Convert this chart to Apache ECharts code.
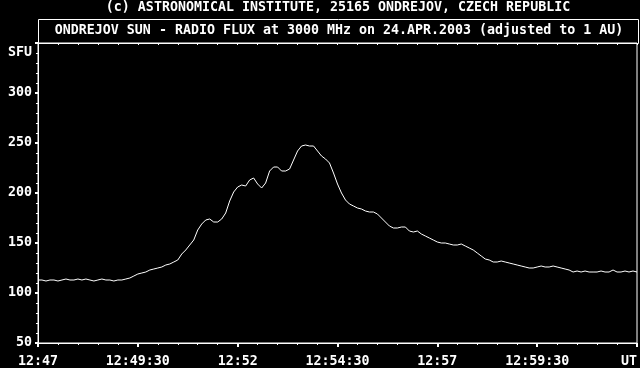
<!DOCTYPE html>
<html>
<head>
<meta charset="utf-8">
<script src="https://cdn.jsdelivr.net/npm/echarts@6/dist/echarts.min.js"></script>
<style>
  html, body { margin: 0; padding: 0; background: #000; }
  #chart { width: 640px; height: 368px; }
</style>
</head>
<body>
<div id="chart"></div>
<script>
// ---- data ----
const headerText = '(c) ASTRONOMICAL INSTITUTE, 25165 ONDREJOV, CZECH REPUBLIC';
const titleText = 'ONDREJOV SUN - RADIO FLUX at 3000 MHz on 24.APR.2003 (adjusted to 1 AU)';
// seconds after 12:47:00 UT for each sample
const sampleStepSeconds = 6;
// flux in SFU, one sample every 6 s from 12:47:00 to 13:02:00
const flux = [
  113,113,112,113,113,112,113,114,113,113,
  114,113,114,113,112,113,114,113,113,112,
  113,113,114,115,117,119,120,121,123,124,
  125,126,128,129,131,133,139,143,148,153,
  163,169,173,174,171,171,174,180,192,201,
  206,208,207,213,215,209,205,210,222,226,
  226,222,222,224,233,242,247,248,247,247,
  242,237,234,230,220,209,200,193,189,187,
  185,184,182,181,181,179,175,171,167,165,
  165,166,166,162,161,162,159,157,155,153,
  151,150,150,149,148,148,149,147,145,143,
  140,137,134,133,131,131,132,131,130,129,
  128,127,126,125,125,126,127,126,126,127,
  126,125,124,123,121,122,121,122,121,121,
  121,122,121,121,123,121,121,122,121,122,
  121
];
const xTickLabels = ['12:47', '12:49:30', '12:52', '12:54:30', '12:57', '12:59:30', 'UT'];
const xMajorStep = 150;   // seconds between labelled ticks
const yTickValues = [50, 100, 150, 200, 250, 300, 340];
const yTickLabels = ['50', '100', '150', '200', '250', '300', 'SFU'];

// ---- chart ----
const FONT = 'DejaVu Sans Mono';
const chart = echarts.init(document.getElementById('chart'), null, { renderer: 'canvas' });
const seriesData = flux.map((v, i) => [i * sampleStepSeconds, v]);

const textStyle = { color: '#fff', fontFamily: FONT, fontWeight: 'bold', fontSize: 13.3 };

chart.setOption({
  backgroundColor: '#000',
  animation: false,
  grid: {
    left: 38, right: 2, top: 43, bottom: 25,
    show: true, borderColor: '#fff', borderWidth: 1, backgroundColor: 'transparent'
  },
  xAxis: [
    {
      type: 'value', position: 'bottom', min: 0, max: 900, interval: xMajorStep,
      axisLine: { show: true, lineStyle: { color: '#fff', width: 1 } },
      axisTick: { show: true, inside: false, length: 4, lineStyle: { color: '#fff', width: 2 } },
      minorTick: { show: true, splitNumber: 5, length: 2, lineStyle: { color: '#fff', width: 1 } },
      splitLine: { show: false },
      axisLabel: Object.assign({
        margin: 12,
        showMinLabel: true, showMaxLabel: true,
        alignMaxLabel: 'right',
        formatter: (v) => xTickLabels[Math.round(v / xMajorStep)] || ''
      }, textStyle)
    },
    {
      type: 'value', position: 'top', min: 0, max: 900, interval: 30,
      axisLine: { show: false },
      axisTick: { show: true, inside: true, length: 2, lineStyle: { color: '#fff', width: 1 } },
      axisLabel: { show: false },
      splitLine: { show: false }
    }
  ],
  yAxis: {
    type: 'value', min: 50, max: 350, interval: 50,
    axisLine: { show: true, lineStyle: { color: '#fff', width: 1 } },
    axisTick: { show: true, inside: false, length: 3, lineStyle: { color: '#fff', width: 2 } },
    minorTick: { show: true, splitNumber: 5, length: 2, lineStyle: { color: '#fff', width: 1 } },
    splitLine: { show: false },
    axisLabel: Object.assign({
      margin: 6,
      customValues: yTickValues,
      formatter: (v) => {
        const k = yTickValues.indexOf(v);
        return k >= 0 ? yTickLabels[k] : '';
      }
    }, textStyle)
  },
  graphic: [
    {
      type: 'rect', silent: true,
      shape: { x: 38.5, y: 19.5, width: 600, height: 24 },
      style: { fill: 'none', stroke: '#fff', lineWidth: 1 }
    },
    {
      type: 'text', silent: true, x: 338, y: 8,
      style: { text: headerText, align: 'center', verticalAlign: 'middle', fill: '#fff',
        font: 'bold 13.3px "' + FONT + '"' }
    },
    {
      type: 'text', silent: true, x: 339, y: 31,
      style: { text: titleText, align: 'center', verticalAlign: 'middle', fill: '#fff',
        font: 'bold 13.3px "' + FONT + '"' }
    }
  ],
  series: [{
    type: 'line',
    data: seriesData,
    showSymbol: false,
    symbol: 'none',
    lineStyle: { color: '#fff', width: 1 },
    xAxisIndex: 0, yAxisIndex: 0
  }]
});
</script>
</body>
</html>
